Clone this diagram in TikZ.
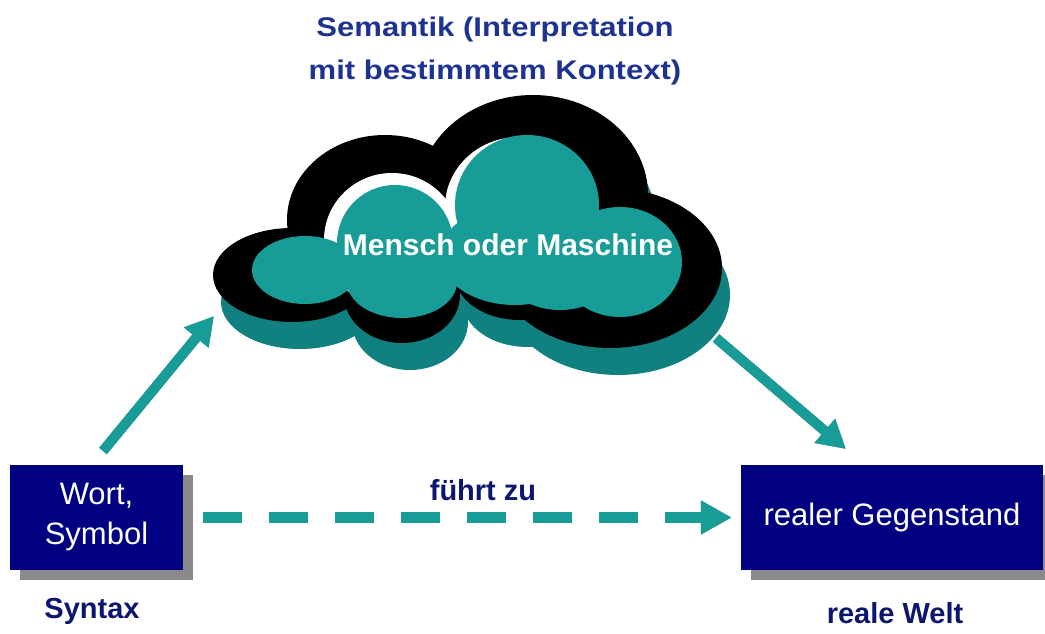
\documentclass[tikz,border=0pt]{standalone}
\usepackage{fontspec}
\setmainfont{Liberation Sans}
\newfontfamily\widefont[FakeStretch=1.15]{Liberation Sans}
\usetikzlibrary{arrows.meta,shadows,calc}
\definecolor{navybox}{RGB}{0,0,128}
\definecolor{tealA}{RGB}{24,156,152}
\definecolor{tealB}{RGB}{16,128,128}
\definecolor{titleblue}{RGB}{30,50,145}
\definecolor{labelblue}{RGB}{12,22,110}
\definecolor{shadowgray}{RGB}{138,138,138}
\newcommand\blacklobes[1]{%
  \foreach \cx/\cy/\rx/\ry in {292/275/79/47, 385/220/98/85, 533/195/115/100, 610/268/112/80, 402/295/58/48, 520/275/65/45}
    \fill[#1] (\cx,\cy) ellipse [x radius=\rx, y radius=\ry];}
\begin{document}
\begin{tikzpicture}[x=1pt,y=-1pt,
  box/.style={fill=navybox, text=white, align=center, inner sep=0pt,
    font=\fontsize{31}{40}\selectfont,
    general shadow={fill=shadowgray, shadow xshift=10pt, shadow yshift=-10pt}},
  lbl/.style={text=labelblue, font=\bfseries\fontsize{29}{34}\selectfont},
  arr/.style={draw=tealA, line width=10pt, -{Triangle[length=28pt,width=30pt]}},
  arrshadow/.style={draw=shadowgray, line width=10pt, -{Triangle[length=28pt,width=30pt]}},
]
\useasboundingbox (0,0) rectangle (1045,634);
\clip (0,0) rectangle (1045,634);

% title
\node[text=titleblue, align=center, font=\widefont\bfseries\fontsize{27}{43}\selectfont] (title) at (495,51)
  {Semantik (Interpretation\\mit bestimmtem Kontext)};

% cloud: extrusion, black body, white gaps, front face
\begin{scope}[shift={(8,27)}]
  \blacklobes{tealB}
\end{scope}
\blacklobes{black}
\fill[white] (392,240) ellipse [x radius=68, y radius=67];
\fill[white] (519,207) ellipse [x radius=74, y radius=70];
\foreach \cx/\cy/\rx/\ry in {305/270/53/34, 395/243/58/58, 527/205/72/70, 620/262/62/55, 402/282/55/36, 515/255/75/50, 560/265/60/45}
  \fill[tealA] (\cx,\cy) ellipse [x radius=\rx, y radius=\ry];
\node[text=white, font=\bfseries\fontsize{30}{34}\selectfont] (cloud) at (508,245) {Mensch oder Maschine};

% boxes
\node[box, minimum width=173pt, minimum height=105pt] (wort) at (96.5,517.5) {Wort,\\Symbol};
\node[box, minimum width=302pt, minimum height=105pt] (gegen) at (892,517.5) {realer Gegenstand};

% labels
\node[lbl] (syntax) at (92,611) {Syntax};
\node[lbl] (welt) at (895,613) {reale Welt};
\node[lbl] (fuehrt) at (483,490) {führt zu};

% connector coordinates
\coordinate (a1s) at (103,451);
\coordinate (a1e) at (214,316);
\coordinate (a2s) at (716,338);
\coordinate (a2e) at (846,449);
\coordinate (ds) at ($(wort.east)+(20,0)$);
\coordinate (de) at ($(gegen.west)+(-9,0)$);

% arrows with shadows
\begin{scope}[shift={(3,3)}]
  \draw[arrshadow] (a1s) -- (a1e);
  \draw[arrshadow] (a2s) -- (a2e);
  \draw[arrshadow, line width=11pt, dash pattern=on 39pt off 27pt, -{Triangle[length=31pt,width=32pt]}] (ds) -- (de);
\end{scope}
\draw[arr] (a1s) -- (a1e);
\draw[arr] (a2s) -- (a2e);
\draw[arr, line width=11pt, dash pattern=on 39pt off 27pt, -{Triangle[length=31pt,width=32pt]}] (ds) -- (de);
\end{tikzpicture}
\end{document}
